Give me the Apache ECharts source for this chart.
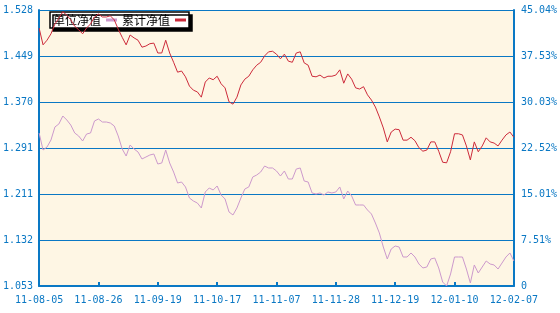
<!DOCTYPE html>
<html>
<head>
<meta charset="utf-8">
<script src="https://cdn.jsdelivr.net/npm/echarts@6/dist/echarts.min.js"></script>
<style>html,body{margin:0;padding:0;background:#fff;}#c{width:560px;height:313px;}</style>
</head>
<body>
<div id="c"></div>
<script>
var dates = [
'11-08-05','11-08-08','11-08-09','11-08-10','11-08-11','11-08-12','11-08-15','11-08-16','11-08-17','11-08-18','11-08-19',
'11-08-22','11-08-23','11-08-24','11-08-25','11-08-26','11-08-29','11-08-30','11-08-31','11-09-01','11-09-02',
'11-09-05','11-09-06','11-09-07','11-09-08','11-09-09','11-09-13','11-09-14','11-09-15','11-09-16','11-09-19',
'11-09-20','11-09-21','11-09-22','11-09-23','11-09-26','11-09-27','11-09-28','11-09-29','11-09-30',
'11-10-10','11-10-11','11-10-12','11-10-13','11-10-14','11-10-17','11-10-18','11-10-19','11-10-20','11-10-21',
'11-10-24','11-10-25','11-10-26','11-10-27','11-10-28','11-10-31','11-11-01','11-11-02','11-11-03','11-11-04',
'11-11-07','11-11-08','11-11-09','11-11-10','11-11-11','11-11-14','11-11-15','11-11-16','11-11-17','11-11-18',
'11-11-21','11-11-22','11-11-23','11-11-24','11-11-25','11-11-28','11-11-29','11-11-30','11-12-01','11-12-02',
'11-12-05','11-12-06','11-12-07','11-12-08','11-12-09','11-12-12','11-12-13','11-12-14','11-12-15','11-12-16',
'11-12-19','11-12-20','11-12-21','11-12-22','11-12-23','11-12-26','11-12-27','11-12-28','11-12-29','11-12-30','11-12-31',
'12-01-04','12-01-05','12-01-06','12-01-09','12-01-10','12-01-11','12-01-12','12-01-13',
'12-01-16','12-01-17','12-01-18','12-01-19','12-01-20','12-01-30','12-01-31',
'12-02-01','12-02-02','12-02-03','12-02-06','12-02-07'
];

// 累计净值 (left axis)
var cumNav = [
1.497,1.468,1.476,1.487,1.504,1.514,1.525,1.519,1.511,1.500,1.494,
1.487,1.497,1.504,1.516,1.521,1.516,1.516,1.518,1.511,1.495,
1.481,1.468,1.485,1.480,1.476,1.464,1.466,1.470,1.471,1.454,
1.454,1.476,1.454,1.438,1.421,1.423,1.413,1.397,1.390,
1.387,1.378,1.404,1.411,1.408,1.414,1.401,1.394,1.370,1.366,
1.378,1.399,1.409,1.414,1.425,1.433,1.438,1.449,1.456,1.457,
1.452,1.444,1.452,1.440,1.438,1.454,1.456,1.437,1.433,1.414,
1.413,1.416,1.411,1.414,1.414,1.416,1.425,1.402,1.418,1.409,
1.394,1.392,1.396,1.382,1.373,1.361,1.344,1.325,1.301,1.318,
1.323,1.322,1.304,1.304,1.309,1.303,1.291,1.285,1.287,1.301,1.301,
1.285,1.266,1.265,1.284,1.315,1.315,1.313,1.294,
1.270,1.301,1.284,1.294,1.308,1.301,1.299,
1.294,1.304,1.313,1.318,1.309
];

// 单位净值 (right axis, %)
var unitNav = [
24.97,22.19,22.68,23.83,25.95,26.44,27.74,27.09,26.27,24.97,24.48,
23.66,24.80,24.97,26.93,27.25,26.76,26.76,26.60,26.11,24.48,
22.36,21.21,23.01,22.36,21.87,20.73,21.05,21.38,21.54,19.91,
20.07,22.19,20.07,18.60,16.81,16.97,16.16,14.36,13.87,
13.54,12.73,15.34,15.99,15.67,16.32,14.85,14.20,12.08,11.59,
12.73,14.36,15.83,16.16,17.79,18.11,18.60,19.58,19.26,19.26,
18.77,17.95,18.77,17.46,17.46,19.09,19.26,17.13,16.97,15.18,
15.01,15.18,14.85,15.34,15.18,15.34,16.16,14.20,15.50,14.69,
13.22,13.22,13.22,12.40,11.75,10.28,8.65,6.36,4.41,6.04,
6.53,6.36,4.73,4.73,5.39,4.73,3.59,2.94,3.10,4.41,4.57,
2.94,0.65,0.00,1.96,4.73,4.73,4.73,2.77,
0.49,3.43,2.12,3.10,4.08,3.59,3.43,
2.77,3.75,4.73,5.39,4.08
];

var leftMin = 1.053, leftMax = 1.528;
var rightMin = 0, rightMax = 45.04;

var blue = '#0a78c4';
var chart = echarts.init(document.getElementById('c'));
chart.setOption({
  animation: false,
  backgroundColor: '#ffffff',
  grid: { left: 37, right: 43, top: 10, bottom: 27, show: true, backgroundColor: '#fef6e4', borderWidth: 0 },
  legend: {
    data: ['单位净值', '累计净值'],
    left: 50, top: 12,
    z: 1,
    align: 'right',
    orient: 'horizontal',
    padding: [2, 3, 2, 3],
    itemGap: 5,
    itemWidth: 11, itemHeight: 3,
    icon: 'rect',
    backgroundColor: '#ffffff',
    borderColor: '#000000',
    borderWidth: 1.5,
    borderRadius: 0,
    shadowColor: '#000000', shadowBlur: 0, shadowOffsetX: 3, shadowOffsetY: 3,
    textStyle: { fontFamily: 'Noto Sans CJK SC', fontSize: 12, color: '#000', padding: [0, 0, 0, 0] }
  },
  xAxis: {
    type: 'category',
    data: dates,
    boundaryGap: false,
    axisLine: { lineStyle: { color: blue, width: 2 } },
    axisTick: { show: true, inside: true, length: 4, interval: 14, lineStyle: { color: blue, width: 2 } },
    axisLabel: { interval: 14, color: blue, fontFamily: 'DejaVu Sans Mono', fontSize: 10, margin: 9, showMaxLabel: true },
    splitLine: { show: false }
  },
  yAxis: [
    {
      type: 'value', position: 'left',
      min: leftMin, max: leftMax, interval: (leftMax - leftMin) / 6,
      axisLine: { show: true, lineStyle: { color: blue, width: 2 } },
      axisTick: { show: false },
      axisLabel: { color: blue, fontFamily: 'DejaVu Sans Mono', fontSize: 10, margin: 6,
        formatter: function (v) { return (v + 1e-6).toFixed(3); } },
      splitLine: { show: true, lineStyle: { color: blue, width: 1 } }
    },
    {
      type: 'value', position: 'right',
      min: rightMin, max: rightMax, interval: (rightMax - rightMin) / 6,
      axisLine: { show: true, lineStyle: { color: blue, width: 2 } },
      axisTick: { show: false },
      axisLabel: { color: blue, fontFamily: 'DejaVu Sans Mono', fontSize: 10, margin: 7,
        formatter: function (v) { return v < 0.001 ? '0' : (v + 1e-6).toFixed(2) + '%'; } },
      splitLine: { show: false }
    }
  ],
  series: [
    {
      name: '单位净值', type: 'line', yAxisIndex: 1, data: unitNav, zlevel: 1, z: 5,
      showSymbol: false, symbol: 'none',
      itemStyle: { color: '#cc99cc' },
      lineStyle: { color: '#cc99cc', width: 1 }
    },
    {
      name: '累计净值', type: 'line', yAxisIndex: 0, data: cumNav, zlevel: 1, z: 6,
      showSymbol: false, symbol: 'none',
      itemStyle: { color: '#cc2a3a' },
      lineStyle: { color: '#cc2a3a', width: 1 }
    }
  ]
});
</script>
</body>
</html>
